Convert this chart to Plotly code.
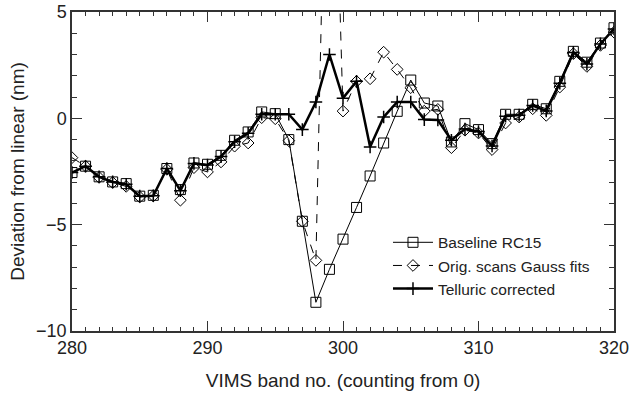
import plotly.graph_objects as go

bands = list(range(280, 321))

baseline = [-2.55, -2.25, -2.75, -2.99, -3.07, -3.66, -3.62, -2.36, -3.35, -2.10,
            -2.16, -1.74, -1.03, -0.64, 0.30, 0.22, -1.00, -4.84, -8.65, -7.10,
            -5.68, -4.19, -2.71, -1.16, 0.33, 1.80, 0.72, 0.58, -1.11, -0.25,
            -0.53, -1.19, 0.19, 0.19, 0.66, 0.45, 1.74, 3.15, 2.64, 3.54, 4.26]

orig_gauss = [-1.85, -2.25, -2.78, -3.02, -3.20, -3.70, -3.65, -2.40, -3.85, -2.32,
              -2.52, -2.05, -1.31, -1.16, 0.03, -0.02, -1.05, -4.84, -6.68, 22.0,
              0.34, 1.74, 1.86, 3.11, 2.30, 1.44, 0.34, 0.42, -1.38, -0.56,
              -0.69, -1.47, -0.22, 0.06, 0.45, 0.14, 1.47, 3.04, 2.44, 3.43, 4.05]

telluric = [-2.55, -2.25, -2.75, -2.99, -3.10, -3.66, -3.64, -2.36, -3.40, -2.12,
            -2.20, -1.80, -1.10, -0.70, 0.19, 0.19, 0.19, -0.53, 0.77, 3.00,
            0.95, 1.74, -1.35, 0.06, 0.77, 0.77, -0.06, -0.08, -1.03, -0.50,
            -0.62, -1.30, 0.10, 0.15, 0.60, 0.35, 1.65, 3.10, 2.55, 3.50, 4.20]

names = ["Baseline RC15", "Orig. scans Gauss fits", "Telluric corrected"]

FONT = "Liberation Sans, Arial, sans-serif"

fig = go.Figure()
fig.add_trace(go.Scatter(
    x=bands, y=baseline, name=names[0], mode="lines+markers",
    line=dict(color="black", width=1),
    marker=dict(symbol="square-open", size=10, color="black", line=dict(width=1))))
fig.add_trace(go.Scatter(
    x=bands, y=orig_gauss, name=names[1], mode="lines+markers",
    line=dict(color="black", width=1, dash="dash"),
    marker=dict(symbol="diamond-open", size=9, color="black", line=dict(width=1))))
fig.add_trace(go.Scatter(
    x=bands, y=telluric, name=names[2], mode="lines+markers",
    line=dict(color="black", width=2.5),
    marker=dict(symbol="cross-thin-open", size=9, color="black", line=dict(width=1.5, color="black"))))

axis_common = dict(
    showgrid=False, zeroline=False, showline=True, linecolor="#333", linewidth=1.5,
    mirror="ticks", ticks="inside", ticklen=10, tickwidth=1, tickcolor="#333",
    tickfont=dict(family=FONT, size=18, color="#222"), automargin=False,
)

fig.update_xaxes(
    range=[280, 320], tick0=280, dtick=10,
    minor=dict(ticks="inside", ticklen=4, dtick=1, tickcolor="#333"),
    title=dict(text="VIMS band no. (counting from 0)", font=dict(family=FONT, size=19, color="#222"), standoff=16),
    **axis_common)
fig.update_yaxes(
    range=[-10, 5], tick0=-10, dtick=5,
    minor=dict(ticks="inside", ticklen=5, dtick=1, tickcolor="#333"),
    title=dict(text="Deviation from linear (nm)", font=dict(family=FONT, size=19, color="#222"), standoff=6),
    **axis_common)

fig.update_layout(
    width=635, height=395,
    margin=dict(l=72, r=21, t=12, b=64),
    paper_bgcolor="white", plot_bgcolor="white",
    showlegend=True,
    legend=dict(x=0.583, y=0.33, xanchor="left", yanchor="top",
                bgcolor="rgba(0,0,0,0)", font=dict(family=FONT, size=15.5, color="#222"),
                itemwidth=40, tracegroupgap=0),
)

fig.write_html("out.html")
